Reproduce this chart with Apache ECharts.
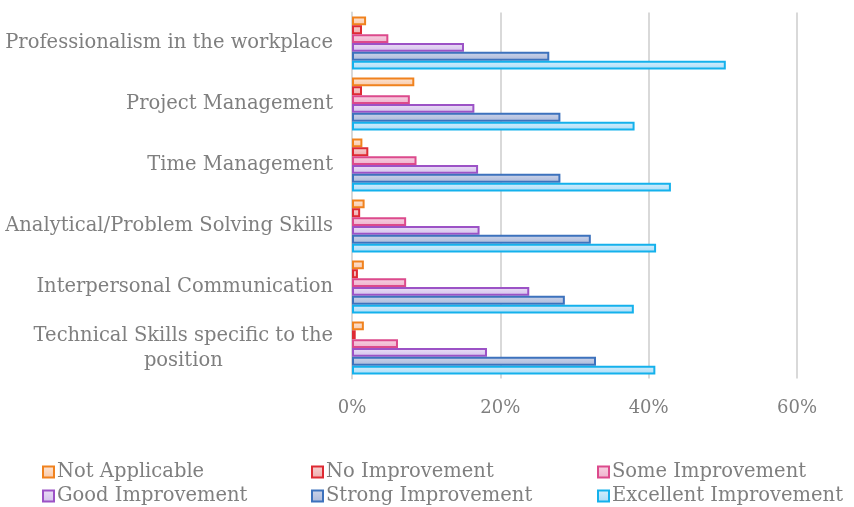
<!DOCTYPE html>
<html><head><meta charset="utf-8">
<script src="https://cdn.jsdelivr.net/npm/echarts@6/dist/echarts.min.js"></script>
<style>html,body{margin:0;padding:0;background:#fff}#c{width:854px;height:507px}</style>
</head><body><div id="c"></div>
<script>
const categories = [
  "Professionalism in the workplace",
  "Project Management",
  "Time Management",
  "Analytical/Problem Solving Skills",
  "Interpersonal Communication",
  "Technical Skills specific to the position"
];
const seriesNames = ["Not Applicable","No Improvement","Some Improvement","Good Improvement","Strong Improvement","Excellent Improvement"];
const notApplicable = [1.9, 8.4, 1.4, 1.7, 1.6, 1.6];
const noImprovement = [1.35, 1.35, 2.2, 1.1, 0.8, 0.5];
const someImprovement = [4.9, 7.8, 8.7, 7.3, 7.3, 6.2];
const goodImprovement = [15.1, 16.5, 17.0, 17.2, 23.9, 18.2];
const strongImprovement = [26.6, 28.1, 28.1, 32.2, 28.7, 32.9];
const excellentImprovement = [50.4, 38.1, 43.0, 41.0, 38.0, 40.9];
const xTicks = [0, 20, 40, 60];

const values = [notApplicable, noImprovement, someImprovement, goodImprovement, strongImprovement, excellentImprovement];
const borders = ["#f0821e", "#de2a33", "#dc4a8c", "#9c52c6", "#3d72bd", "#14b1ec"];
const fillsTop = ["#fde6d6", "#f7d3d3", "#f8d3e3", "#ebdff6", "#cdd5ea", "#d6effc"];
const fillsBot = ["#f9c7a6", "#eeaaaa", "#eeb0cb", "#d3c0ec", "#aab8da", "#a9dcf8"];

const FONT = "DejaVu Serif";
const LF = 19.5;
const chart = echarts.init(document.getElementById('c'), null, {renderer: 'canvas'});
const series = values.map((v, i) => ({
  name: seriesNames[i],
  type: 'bar',
  data: v,
  barGap: '0%',
  barCategoryGap: '13%',
  itemStyle: {
    borderColor: borders[i],
    borderWidth: 2,
    color: new echarts.graphic.LinearGradient(0, 0, 0, 1, [
      {offset: 0, color: fillsTop[i]}, {offset: 1, color: fillsBot[i]}
    ])
  }
}));
function legend(names, left) {
  return {
    data: names, left: left, top: 462, orient: 'vertical', itemGap: 4,
    padding: 0, height: 45,
    itemWidth: 11, itemHeight: 11,
    textStyle: {fontFamily: FONT, fontSize: LF, color: '#7f7f7f', lineHeight: 19, padding: [0, 0, 0, -2]},
    icon: 'rect'
  };
}
chart.setOption({
  animation: false,
  textStyle: {fontFamily: FONT},
  grid: {left: 352, right: 57, top: 12.5, bottom: 128.5, containLabel: false},
  legend: [
    legend([seriesNames[0], seriesNames[3]], 42),
    legend([seriesNames[1], seriesNames[4]], 311),
    legend([seriesNames[2], seriesNames[5]], 597)
  ],
  xAxis: {
    type: 'value', min: 0, max: 60, interval: 20,
    axisLine: {show: false}, axisTick: {show: false},
    splitLine: {lineStyle: {color: '#d9d9d9', width: 2}},
    axisLabel: {formatter: v => v + '%', fontFamily: FONT, fontSize: 18, color: '#7f7f7f', margin: 21}
  },
  yAxis: {
    type: 'category', data: categories, inverse: true,
    axisLine: {show: true, lineStyle: {color: '#d9d9d9', width: 2}},
    axisTick: {show: false},
    axisLabel: {
      fontFamily: FONT, fontSize: LF, color: '#7f7f7f', margin: 19,
      formatter: function (v) {
        if (v.indexOf('Technical') === 0) {
          const idx = v.lastIndexOf(' ');
          return '{a|' + v.slice(0, idx) + '}\n{c|' + v.slice(idx + 1) + '}';
        }
        return '{a|' + v + '}';
      },
      rich: {
        a: {fontFamily: FONT, fontSize: LF, color: '#7f7f7f', lineHeight: 25},
        c: {fontFamily: FONT, fontSize: LF, color: '#7f7f7f', lineHeight: 25, align: 'center'}
      }
    }
  },
  series: series
});
</script></body></html>
